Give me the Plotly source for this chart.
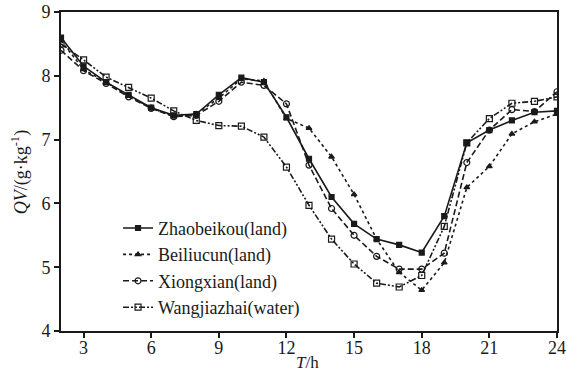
import plotly.graph_objects as go

hours = list(range(2, 25))

zhaobeikou = [8.60, 8.15, 7.90, 7.70, 7.50, 7.38, 7.40, 7.70, 7.97, 7.90, 7.35, 6.70,
              6.10, 5.68, 5.44, 5.35, 5.23, 5.80, 6.95, 7.15, 7.30, 7.43, 7.45]
beiliucun = [8.55, 8.10, 7.90, 7.68, 7.50, 7.36, 7.40, 7.65, 7.95, 7.92, 7.33, 7.18,
             6.73, 6.14, 5.44, 4.92, 4.64, 5.07, 6.25, 6.58, 7.09, 7.28, 7.40]
xiongxian = [8.40, 8.08, 7.88, 7.67, 7.49, 7.36, 7.38, 7.60, 7.90, 7.85, 7.56, 6.60,
             5.92, 5.50, 5.17, 4.97, 4.97, 5.22, 6.64, 7.15, 7.47, 7.44, 7.75]
wangjiazhai = [8.50, 8.25, 7.98, 7.82, 7.65, 7.45, 7.30, 7.22, 7.21, 7.04, 6.57, 5.97,
               5.44, 5.05, 4.75, 4.69, 4.87, 5.64, 6.95, 7.33, 7.57, 7.60, 7.67]

names = ["Zhaobeikou(land)", "Beiliucun(land)", "Xiongxian(land)", "Wangjiazhai(water)"]
series = [zhaobeikou, beiliucun, xiongxian, wangjiazhai]
dashes = ["solid", "dot", "6px,3px", "6px,2px,2px,2px,2px,2px"]
symbols = ["square", "triangle-up", "circle-open", "square-open"]
msizes = [5, 5, 6, 6]

x_ticks = [3, 6, 9, 12, 15, 18, 21, 24]
y_ticks = [4, 5, 6, 7, 8, 9]

FONT = "Liberation Serif"
INK = "#1a1a1a"

fig = go.Figure()
for i, (nm, ys) in enumerate(zip(names, series)):
    fig.add_trace(go.Scatter(
        x=hours, y=ys, name=nm, mode="lines+markers",
        line=dict(color=INK, width=1.6, dash=dashes[i]),
        marker=dict(symbol=symbols[i], size=msizes[i], color=INK,
                    line=dict(color=INK, width=1.2)),
    ))

fig.update_layout(
    width=578, height=373,
    margin=dict(l=61, r=21, t=12, b=42, autoexpand=False),
    paper_bgcolor="white", plot_bgcolor="white",
    font=dict(family=FONT, size=18, color=INK),
    showlegend=True,
    legend=dict(x=0.115, y=0.38, xanchor="left", yanchor="top",
                bgcolor="rgba(0,0,0,0)", font=dict(size=18, family=FONT)),
    xaxis=dict(range=[2, 24], tickvals=x_ticks, ticks="outside", ticklen=5,
               tickwidth=1.5, tickcolor=INK, automargin=False,
               ticklabelstandoff=-6,
               showline=True, linecolor=INK, linewidth=2, mirror=True,
               showgrid=False, zeroline=False),
    yaxis=dict(range=[4, 9], tickvals=y_ticks, ticks="outside", ticklen=5,
               tickwidth=1.5, tickcolor=INK, automargin=False,
               showline=True, linecolor=INK, linewidth=2, mirror=True,
               showgrid=False, zeroline=False),
    annotations=[
        dict(text="<i>T</i>/h", xref="paper", yref="paper", x=0.497, y=-0.098,
             xanchor="center", yanchor="middle", showarrow=False,
             font=dict(size=17, family=FONT, color=INK)),
        dict(text="<i>QV</i>/(g·kg<sup>-1</sup>)", xref="paper", yref="paper",
             x=-0.083, y=0.5, textangle=-90, xanchor="center", yanchor="middle",
             showarrow=False, font=dict(size=18, family=FONT, color=INK)),
    ],
)

fig.write_html("out.html")
